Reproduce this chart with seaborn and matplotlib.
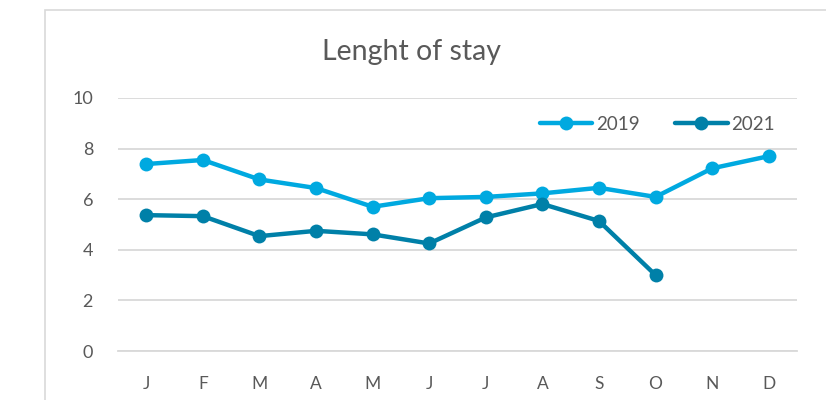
import matplotlib
matplotlib.use("Agg")
import matplotlib.pyplot as plt
import seaborn as sns
import pandas as pd
import numpy as np
from matplotlib.patches import Rectangle
from matplotlib.lines import Line2D

months = ["J", "F", "M", "A", "M", "J", "J", "A", "S", "O", "N", "D"]
stay_2019 = [7.39, 7.55, 6.78, 6.44, 5.70, 6.04, 6.09, 6.23, 6.45, 6.09, 7.22, 7.70]
stay_2021 = [5.37, 5.33, 4.54, 4.75, 4.61, 4.25, 5.28, 5.81, 5.14, 3.00, np.nan, np.nan]
series = ["2019", "2021"]
colors = ["#00A9E0", "#0080A8"]

sns.set_theme(style="white")
plt.rcParams['font.family'] = ['Lato', 'DejaVu Sans']

idx = np.arange(len(months))
df = pd.DataFrame({
    "x": np.concatenate([idx, idx]),
    "value": stay_2019 + stay_2021,
    "year": [series[0]] * len(months) + [series[1]] * len(months),
})

fig = plt.figure(figsize=(8.26, 4.0), dpi=100)
ax = fig.add_axes([118/826, 1 - 351/400, (797 - 118)/826, (351 - 98)/400])

fig.patches.append(Rectangle((45/826, -0.1), 1.2, 1 - 10/400 + 0.1, transform=fig.transFigure,
                             fill=False, edgecolor="#D9D9D9", linewidth=1.2))

sns.lineplot(data=df.dropna(), x="x", y="value", hue="year", palette=colors,
             marker="o", markersize=10, markeredgewidth=0, linewidth=3.2,
             ax=ax, legend=False, sort=False)

ax.set_xlim(-0.5, 11.5)
ax.set_ylim(0, 10)
ax.set_yticks([0, 2, 4, 6, 8, 10])
ax.set_xticks(idx)
ax.set_xticklabels(months)
ax.set_xticks(np.arange(-0.5, 12, 1), minor=True)
ax.tick_params(axis="x", which="major", length=0, pad=18, labelsize=12.5, colors="#595959")
ax.tick_params(axis="x", which="minor", length=5, width=1.2, color="#D0D0D0", direction="out")
ax.tick_params(axis="y", length=0, pad=18, labelsize=13, colors="#595959")
ax.set_xlabel("")
ax.set_ylabel("")
ax.grid(axis="y", color="#D9D9D9", linewidth=1.3)
ax.set_axisbelow(True)
for s in ["top", "right", "left"]:
    ax.spines[s].set_visible(False)
ax.spines["bottom"].set_color("#D9D9D9")
ax.spines["bottom"].set_linewidth(1.3)

handles = [Line2D([0], [0], color=c, linewidth=3.2, marker="o", markersize=10, markeredgewidth=0)
           for c in colors]
leg = ax.legend(handles, series, ncol=2, loc="center right",
                bbox_to_anchor=(775/826, 1 - 124/400), bbox_transform=fig.transFigure,
                frameon=False, fontsize=13.5, handlelength=2.8, handletextpad=0.2,
                columnspacing=1.9, borderaxespad=0, borderpad=0)
for t in leg.get_texts():
    t.set_color("#595959")

fig.text(412/826, 1 - 52/400, "Lenght of stay", ha="center", va="center",
         fontsize=20.5, color="#595959")

fig.savefig("out.png", dpi=100)
